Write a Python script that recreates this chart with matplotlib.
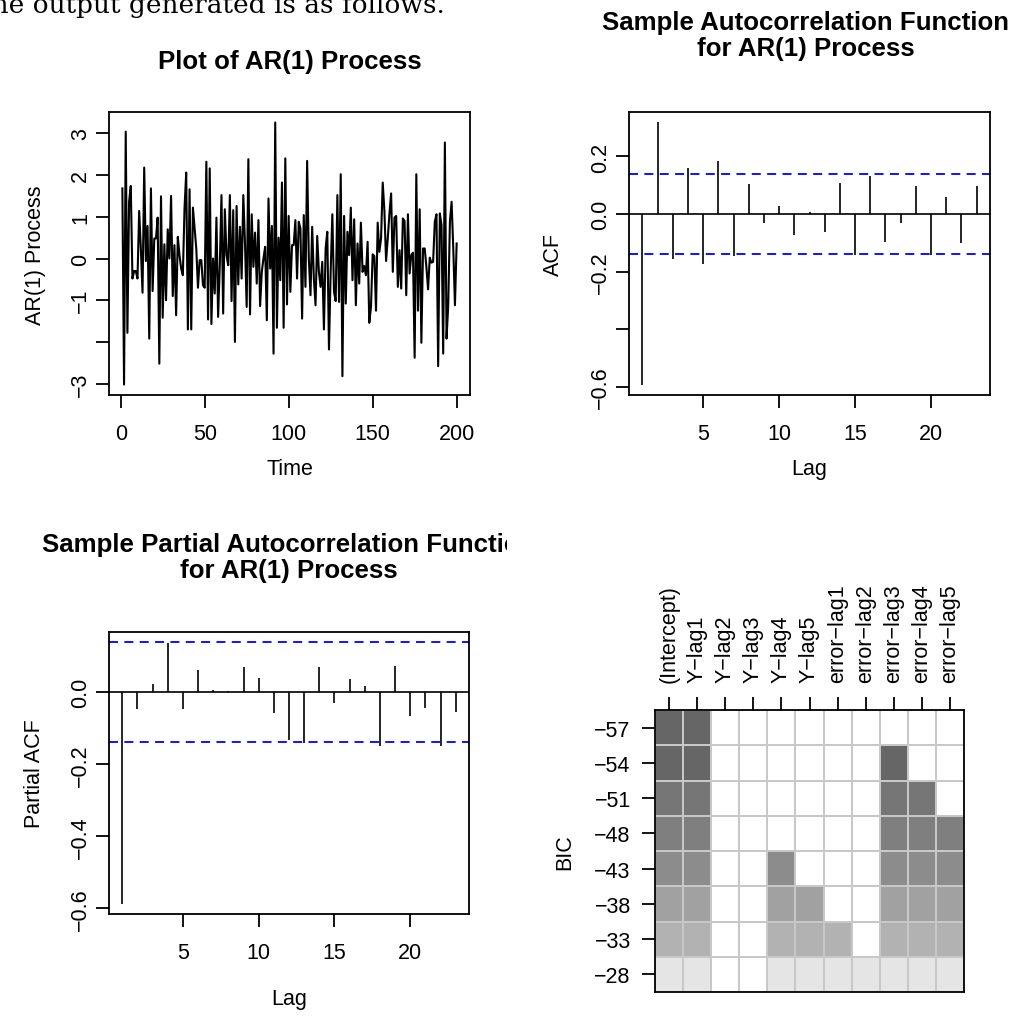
import numpy as np
import matplotlib
matplotlib.use('Agg')
import matplotlib.pyplot as plt
from matplotlib.colors import ListedColormap, BoundaryNorm
from matplotlib.transforms import Bbox, TransformedBbox

plt.rcParams['font.family'] = ['Liberation Sans', 'DejaVu Sans']

W, H = 1014, 1020

# AR(1) series (t = 1..200)
ar_series = [
    1.68, -3.02, 3.04, -1.78, 1.36, 1.74, -0.48, -0.30, -0.30, -0.48,
    1.14, 0.24, -0.82, 2.18, -0.06, 0.78, -1.92, 1.68, -0.78, 0.48,
    0.48, 0.98, -2.52, 1.49, -1.42, 0.34, -1.00, 0.70, 0.00, 1.50,
    -0.90, 0.32, -1.36, 0.52, 0.08, -0.24, -0.40, 1.20, 2.06, -1.70,
    1.66, -1.70, 1.22, 0.72, 0.24, -0.70, -0.04, -0.04, -0.64, -0.70,
    2.32, -1.46, 2.16, -1.57, 0.00, -0.84, 0.98, -1.40, -0.16, 1.52,
    -1.32, 1.18, 0.08, -0.16, 1.52, -1.02, 1.16, -2.00, 1.26, -0.62,
    0.76, -0.48, 1.52, 0.36, -1.16, 2.38, -1.34, 1.06, -0.20, 0.62,
    -0.60, 0.92, -1.14, -0.32, 0.00, 0.28, -1.48, 1.44, -0.24, 0.78,
    -2.28, 3.26, -1.66, 0.50, -0.52, 1.82, -1.66, 2.40, -1.10, 1.02,
    -0.80, 0.32, 0.32, 0.92, -0.48, 0.88, 0.72, -1.44, 1.04, -0.68,
    2.34, 0.00, -0.88, 0.76, -0.48, -1.12, 0.54, -0.32, -0.68, -0.08,
    -1.70, 0.24, 0.64, -2.18, -0.32, 1.06, -0.80, -1.02, 1.52, -1.04,
    2.02, -2.82, 1.02, -1.08, 0.64, 0.08, 1.22, -0.52, 0.94, -1.12,
    0.36, -0.60, 0.86, -0.32, -0.18, -0.40, 0.40, -1.54, -1.16, 0.10,
    0.06, -1.25, 0.86, 0.16, 0.48, 1.82, 1.14, -0.06, 0.48, 1.08,
    1.56, -0.32, 0.98, 1.02, -0.68, 0.20, -0.72, 0.96, 0.90, -0.88,
    1.06, -0.36, 0.08, 0.14, -2.38, 2.02, -1.25, 1.18, -2.02, 0.24,
    0.24, -0.20, -0.74, 0.02, -0.10, -0.08, 0.88, 1.06, -2.58, 1.08,
    0.80, -2.28, 2.78, -1.92, -1.12, 0.88, 1.36, 0.24, -1.12, 0.36,
]
time_ticks = [0, 50, 100, 150, 200]
ar_ticks = [-3, -2, -1, 0, 1, 2, 3]
ar_ticklabels = ['\u22123', '', '\u22121', '0', '1', '2', '3']

lags = list(range(1, 24))
acf_vals = [-0.592, 0.318, -0.156, 0.159, -0.173, 0.185, -0.144, 0.104, -0.031, 0.029,
            -0.073, 0.006, -0.061, 0.107, -0.141, 0.133, -0.096, -0.031, 0.098, -0.141,
            0.058, -0.102, 0.098]
acf_ticks = [-0.6, -0.4, -0.2, 0.0, 0.2]
acf_ticklabels = ['\u22120.6', '', '\u22120.2', '0.0', '0.2']

pacf_vals = [-0.587, -0.045, 0.023, 0.138, -0.047, 0.062, 0.006, 0.005, 0.069, 0.040,
             -0.057, -0.133, -0.140, 0.070, -0.029, 0.038, 0.017, -0.150, 0.074, -0.067,
             -0.044, -0.148, -0.055]
pacf_ticks = [-0.6, -0.4, -0.2, 0.0]
pacf_ticklabels = ['\u22120.6', '\u22120.4', '\u22120.2', '0.0']
lag_ticks = [5, 10, 15, 20]

# regsubsets BIC plot
bic_labels = ['\u221257', '\u221254', '\u221251', '\u221248', '\u221243', '\u221238', '\u221233', '\u221228']
bic_vars = ['(Intercept)', 'Y\u2212lag1', 'Y\u2212lag2', 'Y\u2212lag3', 'Y\u2212lag4', 'Y\u2212lag5',
            'error\u2212lag1', 'error\u2212lag2', 'error\u2212lag3', 'error\u2212lag4', 'error\u2212lag5']
bic_selected = [
    [1, 1, 0, 0, 0, 0, 0, 0, 0, 0, 0],
    [1, 1, 0, 0, 0, 0, 0, 0, 1, 0, 0],
    [1, 1, 0, 0, 0, 0, 0, 0, 1, 1, 0],
    [1, 1, 0, 0, 0, 0, 0, 0, 1, 1, 1],
    [1, 1, 0, 0, 1, 0, 0, 0, 1, 1, 1],
    [1, 1, 0, 0, 1, 1, 0, 0, 1, 1, 1],
    [1, 1, 0, 0, 1, 1, 1, 0, 1, 1, 1],
    [1, 1, 0, 0, 1, 1, 1, 1, 1, 1, 1],
]
bic_greys = ['#666666', '#666666', '#767676', '#7f7f7f', '#8c8c8c', '#a1a1a1', '#b2b2b2', '#e5e5e5']

n_obs = len(ar_series)
clim = 1.96 / np.sqrt(n_obs)

AXIS_FS = 15.5
TITLE_FS = 18.6


def r_range(lo, hi):
    #R pads the data range by 4% on each side
    pad = (hi - lo) * 0.04
    return lo - pad, hi + pad


def box(l, t, r, b):
    return [l / W, 1 - b / H, (r - l) / W, (b - t) / H]


def fx(x):
    return x / W


def fy(y):
    return 1 - y / H


fig = plt.figure(figsize=(W / 100, H / 100), dpi=100)


def r_axes(rect):
    ax = fig.add_axes(rect)
    for s in ax.spines.values():
        s.set_linewidth(1.3)
    ax.tick_params(direction='out', length=9.5, width=1.3, labelsize=AXIS_FS)
    ax.tick_params(axis='x', pad=10.5)
    ax.tick_params(axis='y', pad=3.5, labelrotation=90)
    return ax


title_kw = dict(fontsize=TITLE_FS, fontweight='bold', ha='center', va='center', linespacing=1.12)
label_kw = dict(fontsize=AXIS_FS, ha='center', va='center')

#text from the page above the figure, cut by the crop
fig.text(fx(445), fy(13), 'The output generated is as follows.', family='DejaVu Serif',
         fontsize=19, ha='right', va='baseline')

#Panel 1: the series
ax1 = r_axes(box(109, 113, 470, 396))
t = np.arange(1, n_obs + 1)
ax1.plot(t, ar_series, color='black', lw=1.5)
ax1.set_xlim(*r_range(1, n_obs))
ax1.set_ylim(*r_range(min(ar_series), max(ar_series)))
ax1.set_xticks(time_ticks)
ax1.set_yticks(ar_ticks)
ax1.set_yticklabels(ar_ticklabels, va='center')
fig.text(fx(289.5), fy(62), 'Plot of AR(1) Process', **title_kw)
fig.text(fx(289.5), fy(470), 'Time', **label_kw)
fig.text(fx(35), fy(255), 'AR(1) Process', rotation=90, **label_kw)


def corr_panel(rect, vals, ticks, ticklabels):
    ax = r_axes(rect)
    ax.vlines(lags, 0, vals, color='black', lw=1.2)
    ax.axhline(0, color='black', lw=1.2)
    for c in (clim, -clim):
        ax.axhline(c, color='#0000ff', lw=1.3, ls=(0, (5, 3.5)))
    ax.set_xlim(*r_range(min(lags), max(lags)))
    ax.set_ylim(*r_range(min(min(vals), -clim), max(max(vals), clim)))
    ax.set_xticks(lag_ticks)
    ax.set_yticks(ticks)
    ax.set_yticklabels(ticklabels, va='center')
    return ax


#Panel 2: ACF
ax2 = corr_panel(box(629, 113, 990, 396), acf_vals, acf_ticks, acf_ticklabels)
fig.text(fx(806), fy(36), 'Sample Autocorrelation Function\nfor AR(1) Process', **title_kw)
fig.text(fx(809.5), fy(470), 'Lag', **label_kw)
fig.text(fx(553), fy(255), 'ACF', rotation=90, **label_kw)

#Panel 3: PACF
ax3 = corr_panel(box(109, 633, 469, 915), pacf_vals, pacf_ticks, pacf_ticklabels)
ttl = fig.text(fx(289), fy(558), 'Sample Partial Autocorrelation Function\nfor AR(1) Process', **title_kw)
#the figure region cuts the long title off at the middle of the page
ttl.set_clip_box(TransformedBbox(Bbox([[0, 0], [0.5, 1]]), fig.transFigure))
ttl.set_clip_on(True)
fig.text(fx(289), fy(1000), 'Lag', **label_kw)
fig.text(fx(35), fy(774), 'Partial ACF', rotation=90, **label_kw)

#Panel 4: BIC grid
ax4 = fig.add_axes(box(655, 711, 964, 993))
n_rows, n_cols = len(bic_labels), len(bic_vars)
sel = np.array(bic_selected)
codes = np.where(sel == 1, np.arange(n_rows)[:, None], n_rows)
cmap = ListedColormap(bic_greys + ['white'])
norm = BoundaryNorm(np.arange(-0.5, n_rows + 1), cmap.N)
ax4.pcolormesh(np.arange(n_cols + 1), np.arange(n_rows + 1), codes, cmap=cmap, norm=norm,
               edgecolors='#c8c8c8', linewidth=1.3)
ax4.set_xlim(0, n_cols)
ax4.set_ylim(n_rows, 0)
for s in ax4.spines.values():
    s.set_linewidth(1.3)
ax4.xaxis.tick_top()
ax4.set_xticks(np.arange(n_cols) + 0.5)
ax4.set_xticklabels(bic_vars, rotation=90, ha='center', va='bottom')
ax4.set_yticks(np.arange(n_rows) + 0.5)
ax4.set_yticklabels(bic_labels)
ax4.tick_params(direction='out', length=9.5, width=1.3, labelsize=AXIS_FS)
ax4.tick_params(axis='x', pad=11)
ax4.tick_params(axis='y', pad=8)
fig.text(fx(565), fy(852), 'BIC', rotation=90, **label_kw)

fig.savefig('out.png', dpi=100)
